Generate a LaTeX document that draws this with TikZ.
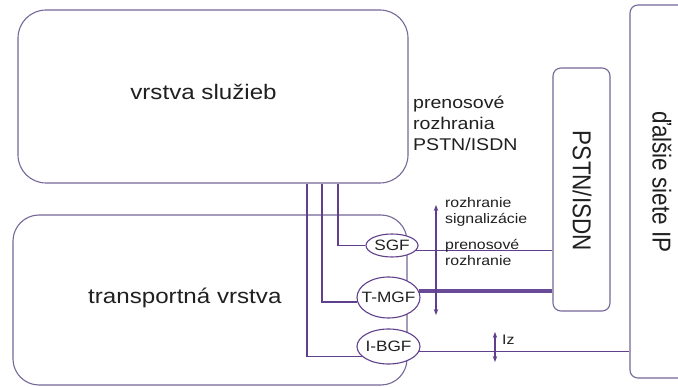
\documentclass[tikz,border=0pt]{standalone}
\usepackage{fontspec}
\setmainfont{Liberation Sans}[FakeStretch=1.15]
\newfontfamily\rotsans{Liberation Sans}
\usetikzlibrary{shapes.geometric,arrows.meta}

\definecolor{boxline}{RGB}{118,104,152}
\definecolor{wirec}{RGB}{96,64,140}
\definecolor{bearerc}{RGB}{104,74,150}
\definecolor{ink}{RGB}{32,32,32}

\begin{document}
\begin{tikzpicture}[x=1pt,y=-1pt,
  layerbox/.style={draw=boxline, line width=1.1pt, fill=white, rounded corners=26pt, inner sep=0pt},
  netbox/.style={draw=boxline, line width=1.1pt, fill=white, rounded corners=8pt, inner sep=0pt},
  func/.style={ellipse, draw=wirec, line width=1.1pt, fill=white, inner sep=0pt},
  funclabel/.style={text=ink, font=\fontsize{15}{17}\selectfont},
  wire/.style={draw=wirec, line width=1.2pt},
  bearer/.style={draw=bearerc, line width=4pt},
  span/.style={draw=wirec, fill=wirec, line width=1.1pt, arrows={Stealth[length=6pt,width=4.5pt]-Stealth[length=6pt,width=4.5pt]}},
  biglabel/.style={text=ink, font=\fontsize{21}{25}\selectfont, inner sep=0pt},
  midlabel/.style={text=ink, font=\fontsize{17}{21}\selectfont, align=left, inner sep=0pt},
  smalllabel/.style={text=ink, font=\fontsize{13.8}{16}\selectfont, align=left, inner sep=0pt},
  sidelabel/.style={text=ink, font=\rotsans\fontsize{22.5}{26}\selectfont, rotate=-90, inner sep=0pt}
]
\useasboundingbox (0,0) rectangle (678,387);
\fill[white] (0,0) rectangle (678,387);

% layers and neighbouring networks
\node[layerbox, rounded corners=28pt, minimum width=390pt, minimum height=173pt] (top) at (213,96.5) {};
\node[layerbox, rounded corners=26pt, minimum width=394pt, minimum height=170pt] (trans) at (210,300) {};
\node[netbox, minimum width=57pt, minimum height=243pt] (pstn) at (581.5,189.5) {};
\node[netbox, minimum width=70pt, minimum height=373pt] (ipnet) at (665,191.5) {};

\node[biglabel, anchor=base] (toptext) at (203.5,100) {vrstva služieb};
\node[biglabel, anchor=base west] (transtext) at (88,304) {transportná vrstva};
\node[sidelabel] (pstntext) at (582,191) {\scalebox{1}[1.15]{PSTN/ISDN}};
\node[sidelabel] (iptext) at (662,182) {\scalebox{1}[1.15]{ďalšie siete IP}};

% gateway functions
\node[func, minimum width=52pt, minimum height=23pt, label={[funclabel]center:SGF}] (sgf) at (392,245.5) {};
\node[func, minimum width=63pt, minimum height=41pt, label={[funclabel]center:T-MGF}] (tmgf) at (388.5,297.5) {};
\node[func, minimum width=63pt, minimum height=35pt, label={[funclabel]center:I-BGF}] (ibgf) at (388.5,346.5) {};

% links from the service layer down to the gateways
\coordinate (d1) at (307,0 |- top.south);
\coordinate (d2) at (322,0 |- top.south);
\coordinate (d3) at (338,0 |- top.south);
\draw[wire] (d1) |- (ibgf.200);
\draw[wire] (d2) |- (tmgf.188);
\draw[wire] (d3) |- (sgf.west);

% links towards the other networks
\draw[wire] (sgf.-12) -- (sgf.-12 -| pstn.west);
\draw[bearer] (tmgf.12) -- (tmgf.12 -| pstn.west);
\draw[wire] (ibgf.-10) -- (ibgf.-10 -| ipnet.west);

% interface markers
\coordinate (ifa) at (436,205);
\coordinate (ifb) at (436,315);
\draw[span] (ifa) -- (ifb);
\coordinate (iza) at (495,332);
\coordinate (izb) at (495,362);
\draw[span] (iza) -- (izb);

% interface labels
\node[midlabel, anchor=base west] (bearpstn) at (413,151) {prenosové\\rozhrania\\PSTN/ISDN};
\node[smalllabel, anchor=base west] (sigif) at (445,224) {rozhranie\\signalizácie};
\node[smalllabel, anchor=base west] (bearif) at (445,266) {prenosové\\rozhranie};
\node[smalllabel, anchor=base west] (iz) at (502,345) {Iz};
\end{tikzpicture}
\end{document}
